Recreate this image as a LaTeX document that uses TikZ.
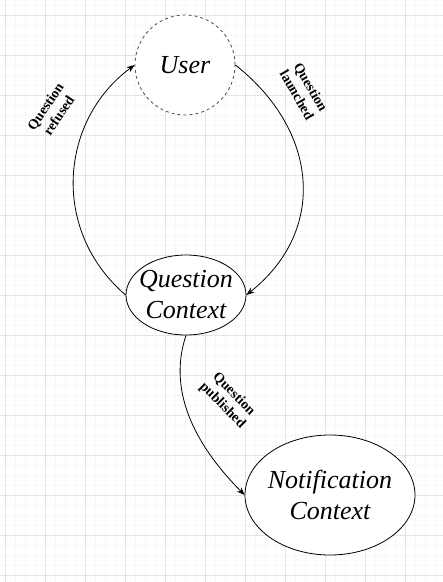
\documentclass[tikz,border=0pt]{standalone}
\usepackage{fontspec}
\setmainfont{Liberation Serif}
\usetikzlibrary{shapes.geometric,arrows.meta}
\begin{document}
\begin{tikzpicture}[x=1pt,y=-1pt,
  statenode/.style={draw=black,line width=0.8pt,fill=white,ellipse,inner sep=0pt},
  statetext/.style={align=center,inner sep=0pt,font=\fontsize{26}{31}\selectfont\itshape},
  edgelabel/.style={font=\fontsize{14}{16}\selectfont\bfseries,align=center,inner sep=0pt},
  flow/.style={draw=black,line width=0.8pt,-{Stealth[length=8pt,width=6pt]}}]
\useasboundingbox (0,0) rectangle (443,582);
\fill[white] (0,0) rectangle (443,582);
\foreach \x in {15,25,35,55,65,75,95,105,115,135,145,155,175,185,195,215,225,235,255,265,275,295,305,315,335,345,355,375,385,395,415,425,435}
  \draw[color=black!3,line width=0.6pt] (\x,0) -- (\x,582);
\foreach \y in {5,25,35,45,65,75,85,105,115,125,145,155,165,185,195,205,225,235,245,265,275,285,305,315,325,345,355,365,385,395,405,425,435,445,465,475,485,505,515,525,545,555,565}
  \draw[color=black!3,line width=0.6pt] (0,\y) -- (443,\y);
\foreach \x in {5,45,85,125,165,205,245,285,325,365,405}
  \draw[color=black!11,line width=0.7pt] (\x,0) -- (\x,582);
\foreach \y in {15,55,95,135,175,215,255,295,335,375,415,455,495,535,575}
  \draw[color=black!11,line width=0.7pt] (0,\y) -- (443,\y);

\node[statenode,circle,draw=black!70,dash pattern=on 3pt off 3pt,minimum size=100pt] (u) at (185,65) {};
\node[statetext] (ut) at (u) {User};
\node[statenode,minimum width=120pt,minimum height=80pt] (qc) at (186,295) {};
\node[statetext] (qct) at (qc) {Question\\Context};
\node[statenode,minimum width=170pt,minimum height=120pt] (nc) at (330,495) {};
\node[statetext] (nct) at (nc) {Notification\\Context};

\draw[flow] (u.east) .. controls (318,130) and (328,230) .. (qc.east);
\draw[flow] (qc.west) .. controls (50,230) and (60,120) .. (u.west);
\draw[flow] (qc.south) .. controls (166,395) and (200,450) .. (nc.west);

\node[edgelabel,rotate=56] (lr) at (52,111) {Question\\refused};
\node[edgelabel,rotate=-60] (ll) at (304,91) {Question\\launched};
\node[edgelabel,rotate=-45] (lp) at (228,400) {Question\\published};
\end{tikzpicture}
\end{document}
